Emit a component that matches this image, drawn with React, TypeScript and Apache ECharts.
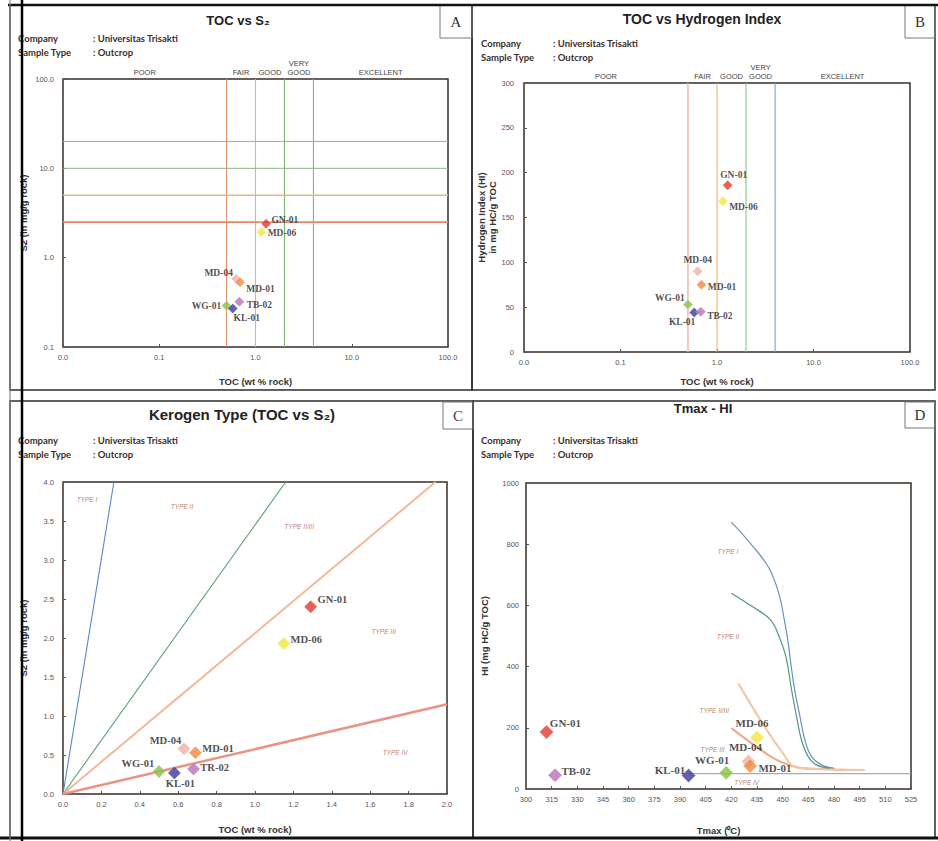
import React, { useEffect, useRef } from "react";
import * as echarts from "echarts";

// ---------------- data ----------------
const SAMPLES = ["GN-01", "MD-06", "MD-04", "MD-01", "WG-01", "KL-01", "TB-02"];
const KEROGEN_SAMPLE_LABELS = ["GN-01", "MD-06", "MD-04", "MD-01", "WG-01", "KL-01", "TR-02"];
const TOC = [1.29, 1.15, 0.63, 0.69, 0.5, 0.58, 0.68];
const S2 = [2.4, 1.93, 0.58, 0.53, 0.29, 0.27, 0.32];
const HI = [186, 168, 90, 75, 53, 44, 45];
const TMAX = [312, 435, 430, 431, 417, 395, 317];

const TOC_LIMITS = [0.5, 1, 2, 4];
const S2_LIMITS = [2.5, 5, 10, 20];
const QUALITY_CLASSES = ["POOR", "FAIR", "GOOD", "VERY\nGOOD", "EXCELLENT"];
const QUALITY_TOC_BOUNDS = [0.01, 0.5, 1, 2, 4, 100];

const KEROGEN_TYPES = ["TYPE I", "TYPE II", "TYPE II/III", "TYPE III", "TYPE IV"];
const KEROGEN_LINE_ENDS = [[0.265, 4], [1.16, 4], [1.94, 4], [2, 1.15]];
const KEROGEN_TYPE_LABEL_AT = [[0.125, 3.77], [0.62, 3.68], [1.23, 3.43], [1.67, 2.08], [1.73, 0.53]];

const TYPE_I_CURVE = [[420, 872], [432, 797], [442, 722], [448, 634], [451, 552], [453, 487], [455, 400], [457, 324], [460, 240], [463, 160], [467, 105], [473, 78], [480, 68]];
const TYPE_II_CURVE = [[420, 640], [432, 597], [443, 552], [448, 497], [452, 430], [455, 330], [458, 240], [461, 160], [465, 105], [470, 78], [478, 68]];
const TYPE_II_III_CURVE = [[424, 346], [439.5, 203], [450, 118], [457, 72], [470, 65], [498, 62]];
const TYPE_III_CURVE = [[420, 199], [435, 137], [446.5, 95], [458, 72], [472, 65], [488, 62]];
const TYPE_IV_LINE = [[395, 50], [525, 50]];
const TMAX_TYPE_LABEL_AT = [[418, 775], [418, 497], [410, 258], [409, 129], [429, 20]];

// ---------------- styles ----------------
const SAMPLE_COLORS = ["#e03a2e", "#f2e640", "#f0b0a0", "#f08a40", "#8cc048", "#3a3a9a", "#b870b8"];
const TOC_LINE_COLORS_A = ["#e0956e", "#f0ae72", "#7db36d", "#7fa8d4"];
const TOC_LINE_COLORS_B = ["#f2bcb4", "#f2b26c", "#8cc48a", "#7aa2c4"];
const S2_LINE_COLORS = ["#e8866a", "#f2b27a", "#86bb7a", "#8aaed0"];
const S2_LINE_WIDTHS = [1.8, 1.3, 1, 1];
const KEROGEN_LINE_COLORS = ["#5a88c8", "#5aa070", "#f4b898", "#e99484"];
const KEROGEN_LINE_WIDTHS = [1.1, 1.1, 2, 2.5];

// label placement per sample: GN-01, MD-06, MD-04, MD-01, WG-01, KL-01, TB-02
const LABEL_A = [["right", -2, -4], ["right", -1, 1], ["left", 4, -6], ["right", -1, 7], ["left", 2, 0], ["bottom", 14, -3], ["right", 0, 3]];
const LABEL_B = [["top", 6, 2], ["right", -1, 6], ["top", 0, 1], ["right", -1, 2], ["left", 4, -6], ["bottom", -12, -3], ["right", -1, 4]];
const LABEL_C = [["right", -2, -7], ["right", -2, -4], ["left", 6, -8], ["right", -2, -4], ["left", 4, -8], ["bottom", 6, -4], ["right", -2, -2]];
const LABEL_D = [["right", -6, -9], ["top", -5, 0], ["top", -3, 0], ["right", -1, 2], ["top", -14, 2], ["left", 6, -6], ["right", -3, -4]];

const SANS = '"Liberation Sans", Arial, sans-serif';
const SERIF = '"Liberation Serif", "Times New Roman", serif';
const INFO = 'Lato, "Open Sans", sans-serif';

const GRIDS = [
  { left: 63, top: 79, width: 385, height: 268 },
  { left: 524, top: 83, width: 386, height: 269 },
  { left: 63, top: 482, width: 384, height: 312 },
  { left: 526, top: 483, width: 385, height: 306 },
];

function axisBase(grid: number, name: string, nameGap: number) {
  return {
    gridIndex: grid,
    name,
    nameLocation: "middle",
    nameGap,
    nameTextStyle: { fontFamily: SANS, fontWeight: "bold", fontSize: 9.5, color: "#333", lineHeight: 11 },
    axisLine: { show: false },
    axisTick: { show: true, inside: true, length: 3, lineStyle: { color: "#555", width: 1 } },
    axisLabel: { fontFamily: SANS, fontSize: 7.5, color: "#555" },
    splitLine: { show: false },
  };
}

function pointSeries(panel: number, xs: number[], ys: number[], names: string[], size: number, cfg: any[], fontSize: number) {
  return {
    type: "scatter",
    xAxisIndex: panel,
    yAxisIndex: panel,
    symbol: "diamond",
    symbolSize: size,
    z: 6,
    label: { show: true, formatter: "{b}", fontFamily: SERIF, fontWeight: "bold", fontSize, color: "#1e1e1e", distance: 2 },
    data: names.map((n, i) => ({
      name: n,
      value: [xs[i], ys[i]],
      itemStyle: { color: SAMPLE_COLORS[i], borderColor: "rgba(255,255,255,0.5)", borderWidth: 0.6 },
      label: { position: cfg[i][0], offset: [cfg[i][1], cfg[i][2]] },
    })),
  };
}

function refLine(panel: number, data: number[][], color: string, width: number, extra: any = {}) {
  return {
    type: "line",
    xAxisIndex: panel,
    yAxisIndex: panel,
    data,
    showSymbol: false,
    symbol: "none",
    silent: true,
    lineStyle: { color, width },
    z: 3,
    ...extra,
  };
}

function typeLabelSeries(panel: number, at: number[][]) {
  return {
    type: "scatter",
    xAxisIndex: panel,
    yAxisIndex: panel,
    symbolSize: 1,
    silent: true,
    itemStyle: { color: "rgba(0,0,0,0)" },
    label: { show: true, position: "inside", formatter: "{b}", fontFamily: SANS, fontStyle: "italic", fontSize: 6.5, color: "#a85a3c" },
    data: KEROGEN_TYPES.map((t, i) => ({ name: t, value: at[i] })),
  };
}

function qualityArea() {
  return {
    silent: true,
    itemStyle: { color: "rgba(0,0,0,0)" },
    label: { show: true, position: "top", distance: 2, fontFamily: SANS, fontSize: 7.5, color: "#444", lineHeight: 9 },
    data: QUALITY_CLASSES.map((c, i) => [{ name: c, xAxis: QUALITY_TOC_BOUNDS[i] }, { xAxis: QUALITY_TOC_BOUNDS[i + 1] }]),
  };
}

function txt(x: number, y: number, text: string, font: string, fill = "#222", align = "left") {
  return {
    type: "text",
    x,
    y,
    z: 10,
    style: { text, font, fill, align, textAlign: align, verticalAlign: "middle", textVerticalAlign: "middle" },
  };
}

function rect(x: number, y: number, w: number, h: number, stroke: string, lw: number) {
  return { type: "rect", z: 9, shape: { x, y, width: w, height: h }, style: { fill: "none", stroke, lineWidth: lw } };
}

function ln(x1: number, y1: number, x2: number, y2: number, stroke: string, lw: number) {
  return { type: "line", z: 11, shape: { x1, y1, x2, y2 }, style: { stroke, lineWidth: lw } };
}

function infoBlock(x: number, xc: number, y: number) {
  const f = `bold 9.5px ${INFO}`;
  return [
    txt(x, y, "Company", f, "#3a2e2e"),
    txt(xc, y, ": Universitas Trisakti", f, "#3a2e2e"),
    txt(x, y + 14, "Sample Type", f, "#3a2e2e"),
    txt(xc, y + 14, ": Outcrop", f, "#3a2e2e"),
  ];
}

function buildOption() {
  const fix1 = (v: number) => v.toFixed(1);
  const plain = (v: number) => String(Math.round(v));
  const lbl = (i: number) => axisBase(i, "", 0).axisLabel;
  const xAxis = [
    { ...axisBase(0, "TOC (wt % rock)", 29), type: "log", logBase: 10, min: 0.01, max: 100, axisLabel: { ...lbl(0), formatter: fix1, margin: 6 } },
    { ...axisBase(1, "TOC (wt % rock)", 24), type: "log", logBase: 10, min: 0.01, max: 100, axisLabel: { ...lbl(1), formatter: fix1, margin: 6 } },
    { ...axisBase(2, "TOC (wt % rock)", 30), type: "value", min: 0, max: 2, interval: 0.2, axisLabel: { ...lbl(2), formatter: fix1, margin: 6 } },
    { ...axisBase(3, "Tmax (\u2070C)", 36), type: "value", min: 300, max: 525, interval: 15, axisLabel: { ...lbl(3), formatter: plain, margin: 6 } },
  ];
  const yAxis = [
    { ...axisBase(0, "S2 (in mg/g rock)", 34), type: "log", logBase: 10, min: 0.1, max: 100, axisLabel: { ...lbl(0), formatter: fix1, margin: 9 } },
    { ...axisBase(1, "Hydrogen Index (HI)\nin mg HC/g TOC", 24), type: "value", min: 0, max: 300, interval: 50, axisLabel: { ...lbl(1), formatter: plain, margin: 10 } },
    { ...axisBase(2, "S2 (in mg/g rock)", 34), type: "value", min: 0, max: 4, interval: 0.5, axisLabel: { ...lbl(2), formatter: fix1, margin: 9 } },
    { ...axisBase(3, "HI (mg HC/g TOC)", 36), type: "value", min: 0, max: 1000, interval: 200, axisLabel: { ...lbl(3), formatter: plain, margin: 7 } },
  ];

  const series: any[] = [];
  // Panel A reference lines
  TOC_LIMITS.forEach((v, i) => {
    series.push(refLine(0, [[v, 0.1], [v, 100]], TOC_LINE_COLORS_A[i], 1.1, i === 0 ? { markArea: qualityArea() } : {}));
  });
  S2_LIMITS.forEach((v, i) => {
    series.push(refLine(0, [[0.01, v], [100, v]], S2_LINE_COLORS[i], S2_LINE_WIDTHS[i]));
  });
  // Panel B reference lines
  TOC_LIMITS.forEach((v, i) => {
    series.push(refLine(1, [[v, 0], [v, 300]], TOC_LINE_COLORS_B[i], i === 0 ? 1.6 : 1.1, i === 0 ? { markArea: qualityArea() } : {}));
  });
  // Panel C kerogen lines
  KEROGEN_LINE_ENDS.forEach((e, i) => {
    series.push(refLine(2, [[0, 0], e], KEROGEN_LINE_COLORS[i], KEROGEN_LINE_WIDTHS[i]));
  });
  series.push(typeLabelSeries(2, KEROGEN_TYPE_LABEL_AT));
  // Panel D curves
  series.push(refLine(3, TYPE_IV_LINE, "#a4acb4", 1.3));
  series.push(refLine(3, TYPE_III_CURVE, "#f0a886", 2, { smooth: 0.4 }));
  series.push(refLine(3, TYPE_II_III_CURVE, "#f5c6a4", 2, { smooth: 0.4 }));
  series.push(refLine(3, TYPE_II_CURVE, "#4f9a78", 1.2, { smooth: 0.4 }));
  series.push(refLine(3, TYPE_I_CURVE, "#6b90c0", 1.2, { smooth: 0.4 }));
  series.push(typeLabelSeries(3, TMAX_TYPE_LABEL_AT));

  // Points
  series.push(pointSeries(0, TOC, S2, SAMPLES, 10, LABEL_A, 9.5));
  series.push(pointSeries(1, TOC, HI, SAMPLES, 10, LABEL_B, 9.5));
  series.push(pointSeries(2, TOC, S2, KEROGEN_SAMPLE_LABELS, 13, LABEL_C, 10.5));
  series.push(pointSeries(3, TMAX, HI, SAMPLES, 14, LABEL_D, 11));

  const graphic: any[] = [
    rect(10, 5, 462, 385, "#2e2e2e", 1.5),
    rect(472, 5, 463, 385, "#2e2e2e", 1.5),
    rect(10, 401, 463, 437, "#2e2e2e", 1.5),
    rect(473, 401, 462, 437, "#2e2e2e", 1.5),
    // letter boxes
    rect(440, 5, 32, 33, "#777", 1),
    rect(905, 5, 30, 33, "#777", 1),
    rect(443, 402, 30, 27, "#777", 1),
    rect(905, 402, 30, 26, "#777", 1),
    txt(456, 22, "A", `15px ${SERIF}`, "#333", "center"),
    txt(920, 22, "B", `15px ${SERIF}`, "#333", "center"),
    txt(458, 416, "C", `15px ${SERIF}`, "#444", "center"),
    txt(920, 415, "D", `15px ${SERIF}`, "#333", "center"),
    // titles
    txt(238, 20, "TOC vs S\u2082", `bold 13px ${SANS}`, "#222", "center"),
    txt(702, 19, "TOC vs Hydrogen Index", `bold 14px ${SANS}`, "#222", "center"),
    txt(242, 414, "Kerogen Type (TOC vs S\u2082)", `bold 15px ${SANS}`, "#222", "center"),
    txt(703, 408, "Tmax - HI", `bold 13px ${SANS}`, "#222", "center"),
    ...infoBlock(18, 93, 38),
    ...infoBlock(481, 553, 43),
    ...infoBlock(18, 93, 440),
    ...infoBlock(481, 553, 440),
    // heavy frame lines
    ln(8, 5, 938, 5, "#111", 2.5),
    ln(0, 838, 938, 838, "#111", 3),
    ln(10, 0, 10, 841, "#888", 1.2),
    ln(22, 0, 22, 841, "#000", 2.5),
  ];

  return {
    animation: false,
    backgroundColor: "#ffffff",
    grid: GRIDS.map((g) => ({ ...g, show: true, borderColor: "#3a2e28", borderWidth: 1.5, backgroundColor: "transparent" })),
    xAxis,
    yAxis,
    series,
    graphic,
  };
}

export default function App() {
  const ref = useRef<HTMLDivElement>(null);
  useEffect(() => {
    if (!ref.current) return;
    const chart = echarts.init(ref.current, undefined, { renderer: "svg" });
    chart.setOption(buildOption() as any);
    return () => chart.dispose();
  }, []);
  return <div ref={ref} style={{ position: "fixed", left: 0, top: 0, width: 938, height: 841, background: "#fff" }} />;
}
